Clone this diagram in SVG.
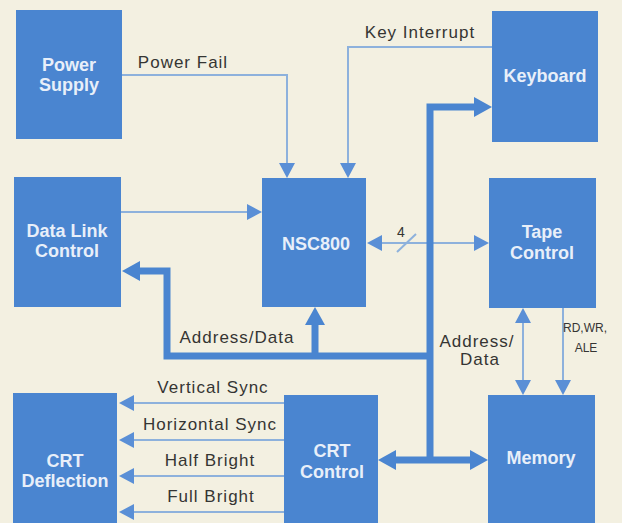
<svg xmlns="http://www.w3.org/2000/svg" width="622" height="523" viewBox="0 0 622 523">
<style>
.box{fill:#4a85d0}
.bt{font-family:"Liberation Sans",Arial,sans-serif;font-weight:bold;font-size:18px;fill:#e8eff9;text-anchor:middle}
.lb{font-family:"Liberation Sans",Arial,sans-serif;font-size:17px;letter-spacing:1px;fill:#353533;text-anchor:middle}
.sm{font-family:"Liberation Sans",Arial,sans-serif;font-size:12px;fill:#353533;text-anchor:middle}
.thin{fill:none;stroke:#8db1dc;stroke-width:2}
.thk{fill:none;stroke:#4a85d0;stroke-width:7}
.ta{marker-end:url(#ah)}
</style>
<defs>
<marker id="ah" markerUnits="userSpaceOnUse" markerWidth="16" markerHeight="16" refX="0" refY="8" orient="auto-start-reverse"><path d="M0,0 L15,8 L0,16 z" fill="#5a8fd6"/></marker>
<marker id="bh" markerUnits="userSpaceOnUse" markerWidth="20" markerHeight="20" refX="0" refY="10" orient="auto-start-reverse"><path d="M0,0 L18,10 L0,20 z" fill="#4a85d0"/></marker>
</defs>
<rect width="622" height="523" fill="#f3f0e1"/>
<g id="connectors">
<path class="thin ta" d="M122,75 H287 V163"/>
<path class="thin ta" d="M492,47 H348 V163"/>
<path class="thin ta" d="M121,212 H247"/>
<path class="thin" d="M382,243 H474" marker-start="url(#ah)" marker-end="url(#ah)"/>
<path class="thin" d="M397,252 L416,234"/>
<text class="sm" style="font-size:14px" x="401" y="237">4</text>
<path class="thin" d="M523,323 V380" marker-start="url(#ah)" marker-end="url(#ah)"/>
<path class="thin ta" d="M563,308 V380"/>
<path class="thin ta" d="M284,403 H134"/>
<path class="thin ta" d="M284,440 H134"/>
<path class="thin ta" d="M284,476 H134"/>
<path class="thin ta" d="M284,512 H134"/>
<path class="thk" d="M474,107 H430 V460" marker-start="url(#bh)"/>
<path class="thk" d="M396,460 H470" marker-start="url(#bh)" marker-end="url(#bh)"/>
<path class="thk" d="M430,356 H167 V271 H140" marker-end="url(#bh)"/>
<path class="thk" d="M315,356 V325" marker-end="url(#bh)"/>
<text class="lb" x="183" y="68">Power Fail</text>
<text class="lb" x="420" y="38">Key Interrupt</text>
<text class="lb" x="237" y="343">Address/Data</text>
<text class="lb" x="477" y="347">Address/</text>
<text class="lb" x="480" y="365">Data</text>
<text class="sm" x="585" y="332">RD,WR,</text>
<text class="sm" x="586" y="352">ALE</text>
<text class="lb" x="213" y="393">Vertical Sync</text>
<text class="lb" x="210" y="430">Horizontal Sync</text>
<text class="lb" x="210" y="466">Half Bright</text>
<text class="lb" x="211" y="502">Full Bright</text>
</g>
<g id="power-supply"><rect class="box" x="16" y="10" width="106" height="129"/><text class="bt" x="69" y="71">Power</text><text class="bt" x="69" y="91">Supply</text></g>
<g id="keyboard"><rect class="box" x="492" y="11" width="106" height="131"/><text class="bt" x="545" y="82">Keyboard</text></g>
<g id="data-link-control"><rect class="box" x="14" y="177" width="107" height="130"/><text class="bt" x="67" y="237">Data Link</text><text class="bt" x="67" y="257">Control</text></g>
<g id="nsc800"><rect class="box" x="262" y="178" width="104" height="129"/><text class="bt" x="316" y="250">NSC800</text></g>
<g id="tape-control"><rect class="box" x="489" y="178" width="107" height="130"/><text class="bt" x="542" y="238">Tape</text><text class="bt" x="542" y="259">Control</text></g>
<g id="crt-deflection"><rect class="box" x="13" y="393" width="104" height="130"/><text class="bt" x="65" y="467">CRT</text><text class="bt" x="65" y="487">Deflection</text></g>
<g id="crt-control"><rect class="box" x="284" y="395" width="94" height="128"/><text class="bt" x="332" y="457">CRT</text><text class="bt" x="332" y="478">Control</text></g>
<g id="memory"><rect class="box" x="488" y="395" width="107" height="128"/><text class="bt" x="541" y="464">Memory</text></g>
</svg>
